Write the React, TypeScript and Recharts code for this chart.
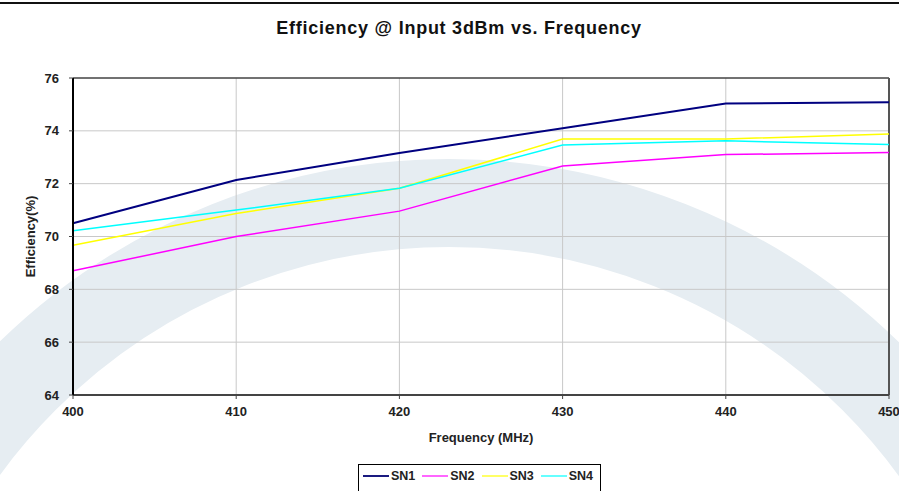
import {
  LineChart,
  Line,
  XAxis,
  YAxis,
  CartesianGrid,
  Legend,
  ReferenceLine,
} from "recharts";

const freqs = [400, 410, 420, 430, 440, 450];
const sn1 = [70.5, 72.14, 73.16, 74.1, 75.03, 75.08];
const sn2 = [68.7, 70.0, 70.96, 72.67, 73.1, 73.18];
const sn3 = [69.67, 70.87, 71.83, 73.69, 73.69, 73.88];
const sn4 = [70.22, 71.0, 71.83, 73.46, 73.62, 73.48];
const xTicks = [400, 410, 420, 430, 440, 450];
const yTicks = [64, 66, 68, 70, 72, 74, 76];

const seriesNames = ["SN1", "SN2", "SN3", "SN4"];
const COLORS = ["#000080", "#ff00ff", "#ffff00", "#00ffff"];
const LEGEND_COLORS = ["#1a1a80", "#ff66ff", "#ffff66", "#66ffff"];

const data = freqs.map((f, i) => ({
  freq: f,
  SN1: sn1[i],
  SN2: sn2[i],
  SN3: sn3[i],
  SN4: sn4[i],
}));

const FONT = '"Liberation Sans", Arial, sans-serif';
const tickStyle = { fontSize: 13, fontWeight: 700, fill: "#222", fontFamily: FONT };

const LegendBox = () => (
  <div
    style={{
      width: 243,
      height: 30,
      border: "1px solid #000",
      boxSizing: "border-box",
      background: "#fff",
      display: "flex",
      paddingLeft: 4,
      paddingTop: 3,
      fontFamily: FONT,
      fontSize: 12.5,
      fontWeight: 700,
      color: "#222",
    }}
  >
    {seriesNames.map((n, i) => (
      <div key={n} style={{ display: "flex", alignItems: "center", width: 60, height: 16 }}>
        <span
          style={{
            display: "inline-block",
            width: 26,
            height: 2,
            background: LEGEND_COLORS[i],
            marginRight: 2,
          }}
        />
        <span>{n}</span>
      </div>
    ))}
  </div>
);

export default function App() {
  return (
    <div
      style={{
        position: "absolute",
        left: 0,
        top: 0,
        width: 899,
        height: 491,
        overflow: "hidden",
        background: "#fff",
      }}
    >
      {/* watermark ring */}
      <svg width={899} height={491} style={{ position: "absolute", left: 0, top: 0 }}>
        <circle cx={449} cy={803} r={600} fill="none" stroke="#e6edf2" strokeWidth={88} />
      </svg>
      <div style={{ position: "absolute", left: 0, top: 2, width: 899, height: 2, background: "#111" }} />
      <div
        style={{
          position: "absolute",
          left: 0,
          top: 18,
          width: 918,
          textAlign: "center",
          fontFamily: FONT,
          fontWeight: 700,
          fontSize: 18,
          letterSpacing: 0.75,
          color: "#111",
        }}
      >
        Efficiency @ Input 3dBm vs. Frequency
      </div>
      <div style={{ position: "absolute", left: 0, top: 0 }}>
        <LineChart
          width={899}
          height={491}
          data={data}
          margin={{ top: 78, right: 10, left: 0, bottom: 0 }}
        >
          <CartesianGrid stroke="#c8c8c8" strokeWidth={1} />
          <XAxis
            dataKey="freq"
            type="number"
            domain={[400, 450]}
            ticks={xTicks}
            height={96}
            tick={tickStyle}
            tickSize={4}
            tickMargin={8}
            axisLine={{ stroke: "#444", strokeWidth: 2 }}
            tickLine={{ stroke: "#444" }}
            label={({ viewBox }: any) => (
              <text
                x={viewBox.x + viewBox.width / 2}
                y={viewBox.y + 42}
                textAnchor="middle"
                dominantBaseline="central"
                style={tickStyle}
              >
                Frequency (MHz)
              </text>
            )}
          />
          <YAxis
            type="number"
            domain={[64, 76]}
            ticks={yTicks}
            width={73}
            tick={tickStyle}
            tickSize={4}
            tickMargin={10}
            axisLine={{ stroke: "#000", strokeWidth: 2 }}
            tickLine={{ stroke: "#444" }}
            label={({ viewBox }: any) => (
              <text
                x={30}
                y={viewBox.y + viewBox.height / 2}
                textAnchor="middle"
                dominantBaseline="central"
                transform={`rotate(-90, 30, ${viewBox.y + viewBox.height / 2})`}
                style={tickStyle}
              >
                Efficiency(%)
              </text>
            )}
          />
          <ReferenceLine y={76} stroke="#000" strokeWidth={1} />
          <ReferenceLine x={450} stroke="#555" strokeWidth={2} />
          {seriesNames.map((n, i) => (
            <Line
              key={n}
              type="linear"
              dataKey={n}
              stroke={COLORS[i]}
              strokeWidth={i === 0 ? 2 : 1.5}
              dot={false}
              isAnimationActive={false}
            />
          ))}
          <Legend
            layout="horizontal"
            verticalAlign="middle"
            align="center"
            content={() => <LegendBox />}
            wrapperStyle={{ top: 464, left: 358, width: 243, height: 30 }}
          />
        </LineChart>
      </div>
    </div>
  );
}
